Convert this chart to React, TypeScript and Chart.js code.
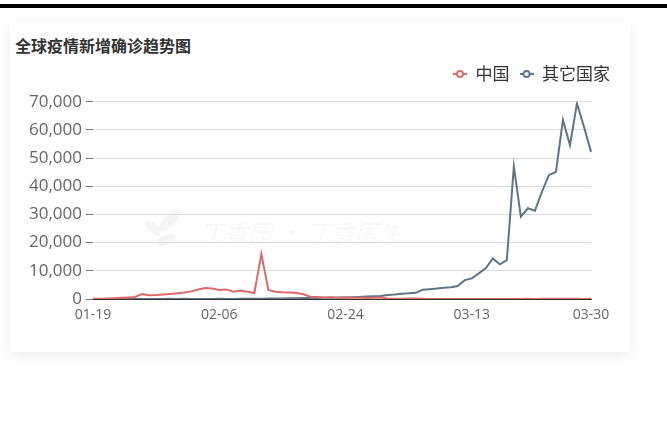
import React, { useEffect, useRef } from "react";
import { Chart, registerables } from "chart.js";

Chart.register(...registerables);

const titleText = "全球疫情新增确诊趋势图";
const watermarkText = "丁香园 · 丁香医生";
const seriesNames = ["中国", "其它国家"];

const categories = [
  "01-19", "01-20", "01-21", "01-22", "01-23", "01-24", "01-25", "01-26", "01-27", "01-28", "01-29", "01-30", "01-31",
  "02-01", "02-02", "02-03", "02-04", "02-05", "02-06", "02-07", "02-08", "02-09", "02-10", "02-11", "02-12", "02-13",
  "02-14", "02-15", "02-16", "02-17", "02-18", "02-19", "02-20", "02-21", "02-22", "02-23", "02-24", "02-25", "02-26",
  "02-27", "02-28", "02-29",
  "03-01", "03-02", "03-03", "03-04", "03-05", "03-06", "03-07", "03-08", "03-09", "03-10", "03-11", "03-12", "03-13",
  "03-14", "03-15", "03-16", "03-17", "03-18", "03-19", "03-20", "03-21", "03-22", "03-23", "03-24", "03-25", "03-26",
  "03-27", "03-28", "03-29", "03-30",
];

const xTickLabels = ["01-19", "02-06", "02-24", "03-13", "03-30"];

const chinaNew = [
  50, 100, 150, 250, 400, 550, 700, 1800, 1300, 1400, 1600, 1800, 2000, 2300, 2700, 3400, 3900, 3700, 3200, 3400,
  2600, 3000, 2600, 2100, 16000, 3200, 2600, 2400, 2300, 2100, 1700, 800, 700, 500, 600, 400, 500, 400, 430, 330,
  430, 570, 200, 125, 120, 140, 143, 100, 44, 40, 19, 24, 15, 8, 11, 20, 16, 21, 13, 34,
  39, 41, 46, 39, 78, 47, 67, 55, 54, 45, 31, 48,
];

const otherNew = [
  5, 10, 5, 8, 15, 20, 25, 30, 20, 40, 30, 45, 25, 50, 30, 35, 25, 40, 45, 30,
  40, 50, 60, 80, 100, 150, 180, 220, 250, 300, 330, 350, 380, 400, 450, 500, 550, 600,
  700, 850, 1000, 1100, 1400, 1600, 1900, 2000, 2200, 3300, 3500, 3700,
  4000, 4200, 4600, 6700, 7300, 9100, 10900, 14400, 12300, 13800,
  47000, 29200, 32200, 31300, 38000, 44000, 45100, 63500, 54600, 69400, 61100, 52200,
];

const yMin = 0;
const yMax = 70000;
const yStep = 10000;

const RED = "#dd6a6a";
const SLATE = "#5f7585";

function makeLegendIcon(color: string): HTMLCanvasElement {
  const c = document.createElement("canvas");
  c.width = 14;
  c.height = 10;
  const ctx = c.getContext("2d")!;
  ctx.strokeStyle = color;
  ctx.lineWidth = 2;
  ctx.beginPath();
  ctx.moveTo(0, 5);
  ctx.lineTo(14, 5);
  ctx.stroke();
  ctx.fillStyle = "#fff";
  ctx.beginPath();
  ctx.arc(7, 5, 3, 0, Math.PI * 2);
  ctx.fill();
  ctx.stroke();
  return c;
}

export default function App() {
  const canvasRef = useRef<HTMLCanvasElement | null>(null);

  useEffect(() => {
    const canvas = canvasRef.current;
    if (!canvas) return;
    const chart = new Chart(canvas, {
      type: "line",
      data: {
        labels: categories,
        datasets: [
          {
            label: seriesNames[0],
            data: chinaNew,
            borderColor: RED,
            backgroundColor: "#fff",
            borderWidth: 2,
            pointRadius: 0,
            pointHoverRadius: 0,
            pointStyle: makeLegendIcon(RED) as any,
            tension: 0,
            fill: false,
          },
          {
            label: seriesNames[1],
            data: otherNew,
            borderColor: SLATE,
            backgroundColor: "#fff",
            borderWidth: 2,
            pointRadius: 0,
            pointHoverRadius: 0,
            pointStyle: makeLegendIcon(SLATE) as any,
            tension: 0,
            fill: false,
          },
        ],
      },
      options: {
        responsive: false,
        animation: false,
        events: [],
        layout: { padding: { left: 10, right: 47, top: 55.5, bottom: 95 } },
        plugins: {
          legend: {
            display: true,
            position: "top",
            align: "end",
            weight: 5000,
            labels: {
              usePointStyle: true,
              pointStyleWidth: 14,
              padding: 10,
              color: "#333",
              font: { size: 17, family: '"Noto Sans CJK SC", sans-serif' },
            },
          } as any,
          subtitle: {
            display: true,
            text: "",
            weight: 100,
            font: { size: 1 },
            padding: { top: 8, bottom: 0 },
          } as any,
          title: { display: false },
          tooltip: { enabled: false },
        },
        scales: {
          x: {
            grid: { display: false, drawTicks: false },
            border: { display: true, color: "#333", width: 1 },
            ticks: {
              autoSkip: false,
              maxRotation: 0,
              minRotation: 0,
              padding: 8,
              color: "#666",
              font: { size: 14, family: '"Open Sans", sans-serif' },
              callback: (_v: any, i: number) => (xTickLabels.includes(categories[i]) ? categories[i] : ""),
            },
            afterFit: (s: any) => {
              s.height = 30;
              s.paddingRight = 76;
            },
          },
          y: {
            min: yMin,
            max: yMax,
            ticks: {
              stepSize: yStep,
              padding: 4,
              color: "#666",
              font: { size: 17, family: '"Open Sans", sans-serif' },
              callback: (v: any) => Number(v).toLocaleString("en-US"),
            },
            grid: {
              color: (ctx: any) => (ctx.tick && ctx.tick.value === 0 ? "#333" : "#dcdcdc"),
              tickColor: "#777",
              tickLength: 7,
            },
            border: { display: false },
            afterFit: (s: any) => {
              s.width = 83;
            },
          },
        },
      },
    } as any);
    return () => chart.destroy();
  }, []);

  return (
    <div style={{ position: "fixed", left: 0, top: 0, width: 667, height: 424, overflow: "hidden", background: "#fff" }}>
      <div style={{ position: "absolute", left: 0, top: 4, width: 667, height: 4, background: "#000" }} />
      <div
        style={{
          position: "absolute",
          left: 10,
          top: 22,
          width: 620,
          height: 330,
          background: "#fff",
          borderRadius: 4,
          boxShadow: "0 2px 12px rgba(0,0,0,0.09)",
        }}
      />
      <svg style={{ position: "absolute", left: 140, top: 208 }} width={48} height={44}>
        <g fill="rgba(0,0,0,0.04)">
          <ellipse cx={30} cy={12} rx={14} ry={6} transform="rotate(-45 30 12)" />
          <ellipse cx={13} cy={20} rx={10} ry={5} transform="rotate(40 13 20)" />
          <ellipse cx={26} cy={32} rx={11} ry={5} transform="rotate(-20 26 32)" />
        </g>
      </svg>
      <div
        style={{
          position: "absolute",
          left: 200,
          top: 218,
          fontSize: 24,
          lineHeight: "28px",
          fontStyle: "italic",
          color: "rgba(0,0,0,0.04)",
          fontFamily: '"Noto Sans CJK SC", sans-serif',
          whiteSpace: "nowrap",
        }}
      >
        {watermarkText}
      </div>
      <div
        style={{
          position: "absolute",
          left: 15,
          top: 36,
          fontSize: 16,
          lineHeight: "18px",
          fontWeight: 700,
          color: "#333",
          fontFamily: '"Noto Sans CJK SC", sans-serif',
          whiteSpace: "nowrap",
        }}
      >
        {titleText}
      </div>
      <canvas
        ref={canvasRef}
        width={667}
        height={424}
        style={{ position: "absolute", left: 0, top: 0, width: 667, height: 424, display: "block" }}
      />
    </div>
  );
}
